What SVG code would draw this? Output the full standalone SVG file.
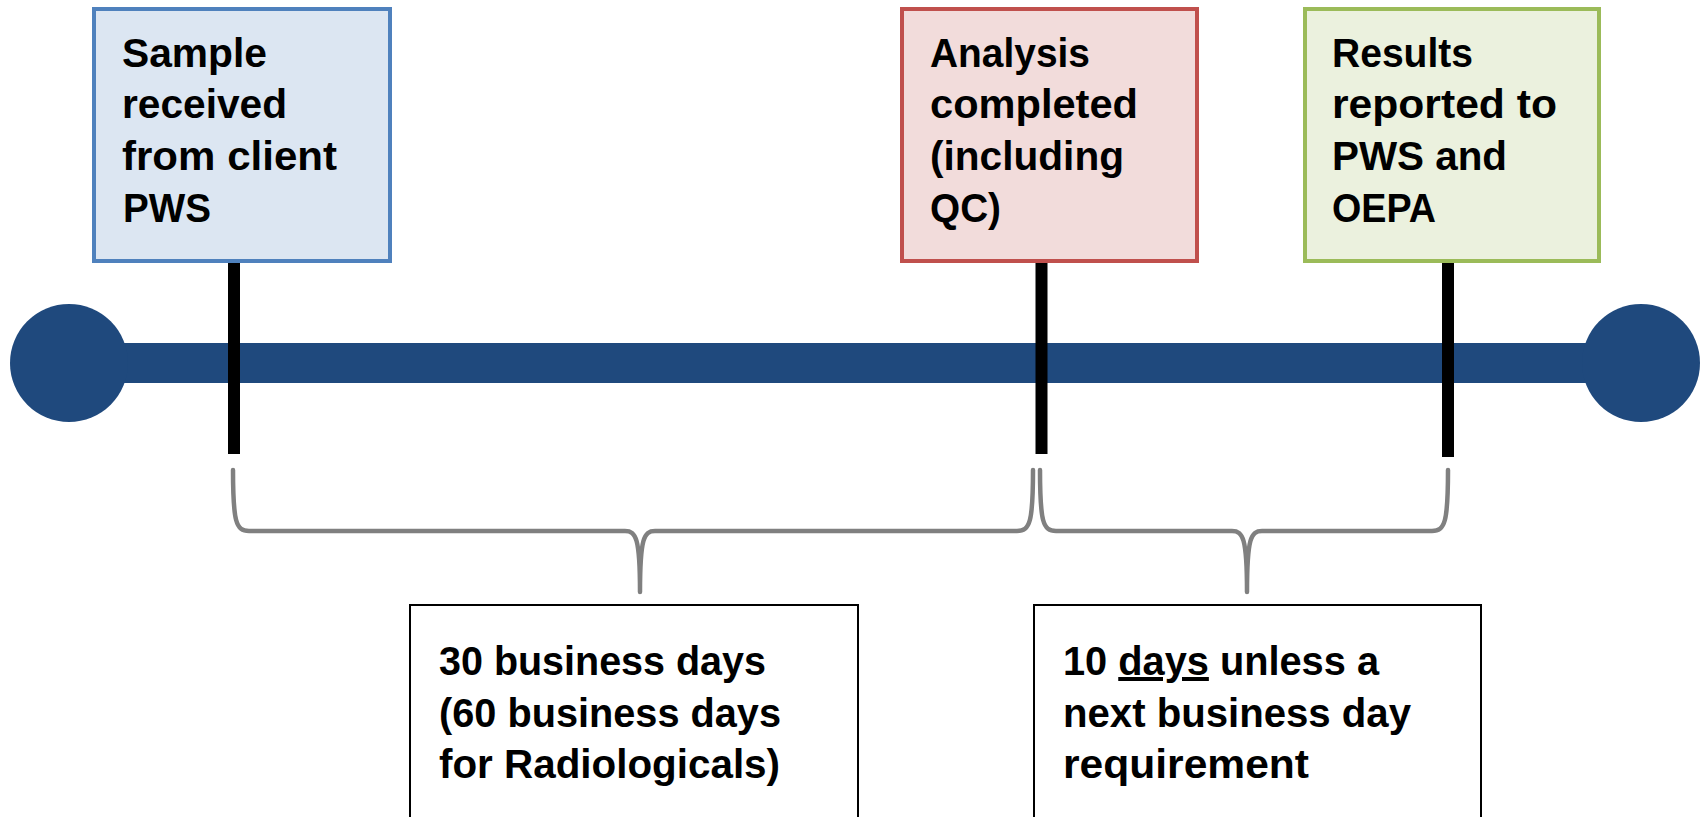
<svg xmlns="http://www.w3.org/2000/svg" width="1703" height="817" viewBox="0 0 1703 817">
<style>
.t{font-family:"Liberation Sans",Arial,sans-serif;font-weight:bold;fill:#000;}
.top{font-size:41px;}
.bot{font-size:40px;}
.tick{stroke:#000;stroke-width:12;fill:none;}
.brace{stroke:#808080;stroke-width:4.5;fill:none;stroke-linecap:round;stroke-linejoin:round;}
.note{fill:#fff;stroke:#000;stroke-width:2;}
</style>
<rect width="1703" height="817" fill="#fff"/>
<g id="timeline">
<rect x="69" y="343" width="1572" height="40" fill="#1F497D"/>
<circle cx="69" cy="363" r="59" fill="#1F497D"/>
<circle cx="1641" cy="363" r="59" fill="#1F497D"/>
</g>
<g id="sample-received">
<rect x="94" y="9" width="296" height="252" fill="#DCE6F2" stroke="#4F81BD" stroke-width="4"/>
<text class="t top"><tspan x="122" y="67" textLength="145" lengthAdjust="spacingAndGlyphs">Sample</tspan><tspan x="122" y="118" textLength="165" lengthAdjust="spacingAndGlyphs">received</tspan><tspan x="122" y="170" textLength="215" lengthAdjust="spacingAndGlyphs">from client</tspan><tspan x="123" y="222" textLength="88" lengthAdjust="spacingAndGlyphs">PWS</tspan></text>
</g>
<g id="analysis-completed">
<rect x="902" y="9" width="295" height="252" fill="#F2DCDB" stroke="#C0504D" stroke-width="4"/>
<text class="t top"><tspan x="930" y="67" textLength="160" lengthAdjust="spacingAndGlyphs">Analysis</tspan><tspan x="930" y="118" textLength="208" lengthAdjust="spacingAndGlyphs">completed</tspan><tspan x="930" y="170" textLength="194" lengthAdjust="spacingAndGlyphs">(including</tspan><tspan x="930" y="222" textLength="71" lengthAdjust="spacingAndGlyphs">QC)</tspan></text>
</g>
<g id="results-reported">
<rect x="1305" y="9" width="294" height="252" fill="#EBF1DE" stroke="#9BBB59" stroke-width="4"/>
<text class="t top"><tspan x="1332" y="67" textLength="141" lengthAdjust="spacingAndGlyphs">Results</tspan><tspan x="1332" y="118" textLength="225" lengthAdjust="spacingAndGlyphs">reported to</tspan><tspan x="1332" y="170" textLength="175" lengthAdjust="spacingAndGlyphs">PWS and</tspan><tspan x="1332" y="222" textLength="104" lengthAdjust="spacingAndGlyphs">OEPA</tspan></text>
</g>
<g id="connectors">
<line class="tick" x1="234" y1="263" x2="234" y2="454"/>
<line class="tick" x1="1041.5" y1="263" x2="1041.5" y2="454"/>
<line class="tick" x1="1448" y1="263" x2="1448" y2="457"/>
<path class="brace" d="M233,470 C233,522 236,531 249,531 L625,531 C636,531 640,538 640,592 C640,538 644,531 655,531 L1017,531 C1030,531 1033,522 1033,470"/>
<path class="brace" d="M1040,470 C1040,522 1043,531 1056,531 L1232,531 C1243,531 1247,538 1247,592 C1247,538 1251,531 1262,531 L1432,531 C1445,531 1448,522 1448,470"/>
</g>
<g id="duration-analysis">
<rect class="note" x="410" y="605" width="448" height="240"/>
<text class="t bot"><tspan x="439" y="675" textLength="327" lengthAdjust="spacingAndGlyphs">30 business days</tspan><tspan x="439" y="727" textLength="342" lengthAdjust="spacingAndGlyphs">(60 business days</tspan><tspan x="439" y="778" textLength="341" lengthAdjust="spacingAndGlyphs">for Radiologicals)</tspan></text>
</g>
<g id="duration-reporting">
<rect class="note" x="1034" y="605" width="447" height="240"/>
<text class="t bot" x="1063" y="675" textLength="316" lengthAdjust="spacingAndGlyphs">10 <tspan text-decoration="underline">days</tspan> unless a</text>
<text class="t bot"><tspan x="1063" y="727" textLength="348" lengthAdjust="spacingAndGlyphs">next business day</tspan><tspan x="1063" y="778" textLength="246" lengthAdjust="spacingAndGlyphs">requirement</tspan></text>
</g>
</svg>
